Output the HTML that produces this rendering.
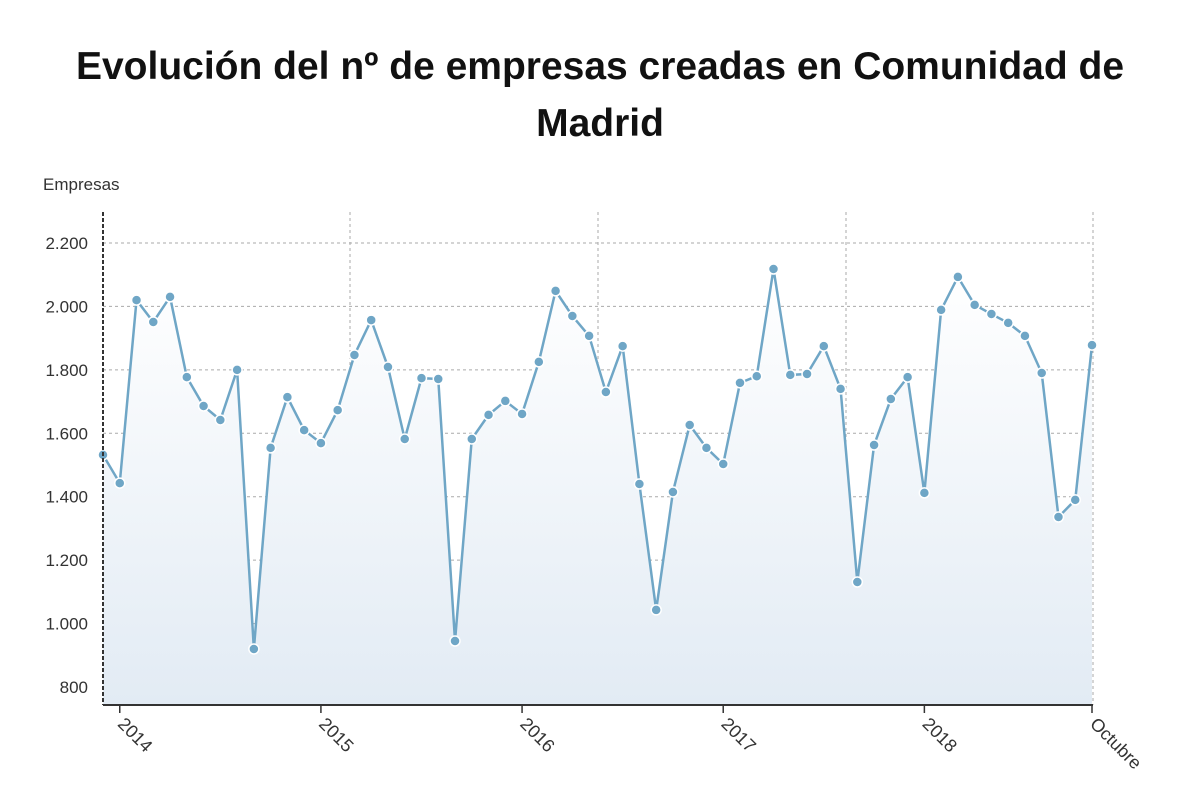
<!DOCTYPE html>
<html><head><meta charset="utf-8">
<style>
body{margin:0;background:#fff;width:1200px;height:808px;overflow:hidden;font-family:"Liberation Sans",sans-serif}
#title{position:absolute;left:0;width:1200px;top:38px;text-align:center;font-weight:bold;font-size:39px;line-height:57px;color:#111}
</style></head><body>
<div id="title">Evolución del nº de empresas creadas en Comunidad de<br>Madrid</div>
<svg id="chart" width="1200" height="808" style="position:absolute;left:0;top:0">
<defs><linearGradient id="g" x1="0" y1="0" x2="0" y2="1"><stop offset="0" stop-color="#ffffff"/><stop offset="1" stop-color="#e2ebf4"/></linearGradient></defs>
</svg>
<script>
const values=[1532,1443,2020,1951,2030,1777,1686,1642,1800,920,1554,1714,1610,1569,1673,1847,1957,1809,1582,1774,1771,945,1582,1658,1702,1661,1825,2049,1970,1907,1730,1875,1440,1043,1415,1626,1554,1503,1759,1780,2118,1784,1787,1875,1740,1131,1563,1708,1777,1412,1989,2093,2005,1976,1948,1907,1790,1336,1390,1878];
const yTicks=[800,1000,1200,1400,1600,1800,2000,2200];
const yTickLabels=["800","1.000","1.200","1.400","1.600","1.800","2.000","2.200"];
const xTickIdx=[1,13,25,37,49,59];
const xTickLabels=["2014","2015","2016","2017","2018","Octubre"];
const svg=document.getElementById('chart');const NS='http://www.w3.org/2000/svg';
const L=103,R=1092,T=212,B=705;
const x=i=>L+(R-L)*i/(values.length-1);
const y=v=>687-(v-800)*(444/1400);
function mk(t,a,p){const e=document.createElementNS(NS,t);for(const k in a)e.setAttribute(k,a[k]);(p||svg).appendChild(e);return e;}
// grid
yTicks.forEach((v,i)=>{
 const g=mk('line',{x1:L,x2:R,y1:y(v),y2:y(v),stroke:'#aaa','stroke-dasharray':'3,3'});
 
 
 const t=mk('text',{x:88,y:y(v)+6,'text-anchor':'end','font-size':17,fill:'#333'});t.textContent=yTickLabels[i];
 
 
});
[350,598,846,1093].forEach(px=>{
 const g=mk('line',{x1:px,x2:px,y1:T,y2:B,stroke:'#aaa','stroke-dasharray':'3,3'});
 
 
});
// area
let d='M'+x(0)+','+B;values.forEach((v,i)=>d+=' L'+x(i)+','+y(v));d+=' L'+x(values.length-1)+','+B+' Z';
const area=mk('path',{d:d,fill:'url(#g)'});


let ld='';values.forEach((v,i)=>ld+=(i?' L':'M')+x(i)+','+y(v));
const line=mk('path',{d:ld,fill:'none',stroke:'#6fa6c6','stroke-width':2.5});


values.forEach((v,i)=>{
 const c=mk('circle',{cx:x(i),cy:y(v),r:5,fill:'#6fa6c6',stroke:'#fff','stroke-width':1.5});
 
 
});
// axes
const ya=mk('line',{x1:L,x2:L,y1:T,y2:B,stroke:'#333','stroke-width':2,'stroke-dasharray':'4,2'});


const xa=mk('line',{x1:L,x2:R+1,y1:B,y2:B,stroke:'#333','stroke-width':2});


xTickIdx.forEach((idx,i)=>{
 const px=x(idx);
 const tk=mk('line',{x1:px,x2:px,y1:B,y2:B+8,stroke:'#333','stroke-width':1.5});
 
 
 const t=mk('text',{x:px-3,y:B+20,'font-size':18,fill:'#333',transform:'rotate(45 '+(px-3)+' '+(B+20)+')'});t.textContent=xTickLabels[i];
 
 
});
const yt=mk('text',{x:43,y:190,'font-size':17,fill:'#333'});yt.textContent='Empresas';


</script>
</body></html>
